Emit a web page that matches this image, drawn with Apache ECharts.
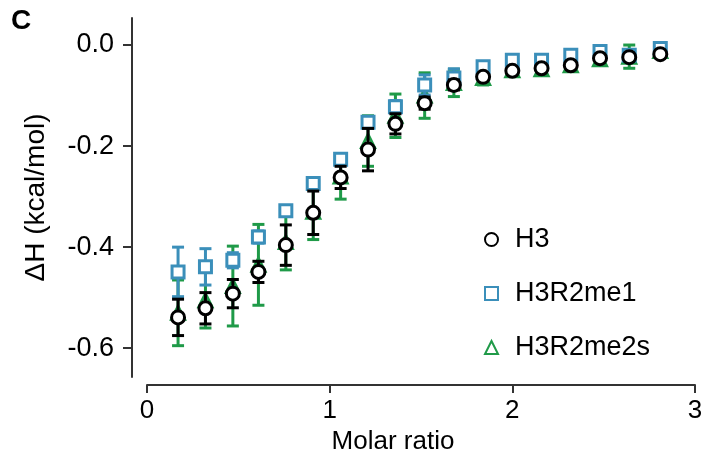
<!DOCTYPE html>
<html>
<head>
<meta charset="utf-8">
<script src="https://cdn.jsdelivr.net/npm/echarts@6/dist/echarts.min.js"></script>
<style>
  html, body { margin: 0; padding: 0; background: #fff; }
  #chart { width: 707px; height: 452px; }
</style>
</head>
<body>
<div id="chart"></div>
<script>
// 摩尔比 (x)
var molarRatio = [0.17, 0.32, 0.47, 0.61, 0.76, 0.91, 1.06, 1.21, 1.36, 1.52, 1.68, 1.84, 2.0, 2.16, 2.32, 2.48, 2.64, 2.81];

// H3
var h3Y   = [-0.539, -0.521, -0.492, -0.449, -0.396, -0.332, -0.262, -0.207, -0.156, -0.115, -0.079, -0.063, -0.051, -0.046, -0.040, -0.026, -0.024, -0.018];
var h3Err = [0.036, 0.031, 0.028, 0.021, 0.040, 0.043, 0.022, 0.042, 0.020, 0.012, 0.010, 0.006, 0.005, 0.005, 0.005, 0.005, 0.005, 0.005];

// H3R2me1
var me1Y   = [-0.449, -0.439, -0.426, -0.380, -0.328, -0.274, -0.226, -0.153, -0.122, -0.079, -0.065, -0.043, -0.030, -0.030, -0.020, -0.013, -0.020, -0.007];
var me1Err = [0.049, 0.036, 0.015, 0.012, 0.010, 0.010, 0.010, 0.010, 0.012, 0.020, 0.018, 0.010, 0.008, 0.008, 0.008, 0.008, 0.008, 0.008];

// H3R2me2s
var me2sY   = [-0.530, -0.505, -0.477, -0.435, -0.390, -0.330, -0.260, -0.190, -0.140, -0.100, -0.075, -0.065, -0.050, -0.048, -0.040, -0.028, -0.023, -0.012];
var me2sErr = [0.065, 0.055, 0.079, 0.080, 0.055, 0.055, 0.045, 0.050, 0.043, 0.045, 0.027, 0.014, 0.008, 0.008, 0.008, 0.008, 0.023, 0.010];

var seriesNames = ['H3', 'H3R2me1', 'H3R2me2s'];
var yTicks = [-0.6, -0.4, -0.2, 0.0];

var black = '#000000';
var blue = '#3b8fba';
var green = '#1f9a48';
var fontFamily = 'Arial, "Liberation Sans", sans-serif';

function pts(ys, errs) {
    return molarRatio.map(function (x, i) { return [x, ys[i], errs[i]]; });
}

// 误差棒
function errorBar(color) {
    return function (params, api) {
        var x = api.value(0), y = api.value(1), e = api.value(2);
        var top = api.coord([x, y + e]);
        var bot = api.coord([x, y - e]);
        var hw = 6;
        var st = { stroke: color, lineWidth: 3 };
        return {
            type: 'group',
            children: [
                { type: 'line', shape: { x1: top[0], y1: top[1], x2: bot[0], y2: bot[1] }, style: st },
                { type: 'line', shape: { x1: top[0] - hw, y1: top[1], x2: top[0] + hw, y2: top[1] }, style: st },
                { type: 'line', shape: { x1: bot[0] - hw, y1: bot[1], x2: bot[0] + hw, y2: bot[1] }, style: st }
            ]
        };
    };
}

var myChart = echarts.init(document.getElementById('chart'));
var option = {
    backgroundColor: '#fff',
    animation: false,
    title: {
        text: 'C',
        left: 6,
        top: 2,
        textStyle: { fontFamily: fontFamily, fontSize: 28, fontWeight: 'bold', color: '#000' }
    },
    grid: {
        left: 147,
        right: 12,
        top: 18,
        bottom: 75,
        outerBoundsMode: 'none'
    },
    legend: {
        orient: 'vertical',
        left: 484,
        top: 226,
        padding: 0,
        itemWidth: 13,
        itemHeight: 13,
        itemGap: 27,
        textStyle: { fontFamily: fontFamily, fontSize: 27, color: '#000', padding: [0, 0, 0, 12] },
        data: seriesNames
    },
    xAxis: {
        type: 'value',
        min: 0,
        max: 3,
        interval: 1,
        offset: 8,
        name: 'Molar ratio',
        nameLocation: 'middle',
        nameGap: 38,
        nameTextStyle: { fontFamily: fontFamily, fontSize: 26, color: '#000', padding: [0, 56, 0, 0] },
        splitLine: { show: false },
        axisLine: { show: true, onZero: false, lineStyle: { color: '#333', width: 2 } },
        axisTick: { show: true, length: 8, lineStyle: { color: '#333', width: 2 } },
        axisLabel: {
            margin: 13,
            fontFamily: fontFamily, fontSize: 26, color: '#000',
            formatter: function (v) { return String(v); }
        }
    },
    yAxis: {
        type: 'value',
        min: -0.657,
        max: 0.0535,
        offset: 15,
        name: 'ΔH (kcal/mol)',
        nameLocation: 'middle',
        nameGap: 82,
        nameTextStyle: { fontFamily: fontFamily, fontSize: 28, color: '#000' },
        splitLine: { show: false },
        axisLine: { show: true, onZero: false, lineStyle: { color: '#333', width: 2 } },
        axisTick: { show: true, length: 9, customValues: yTicks, lineStyle: { color: '#333', width: 2 } },
        axisLabel: {
            margin: 18,
            customValues: yTicks,
            fontFamily: fontFamily, fontSize: 27, color: '#000',
            formatter: function (v) { return v.toFixed(1); }
        }
    },
    series: [
        {
            name: 'err-me2s', type: 'custom', renderItem: errorBar(green),
            encode: { x: 0, y: 1 }, data: pts(me2sY, me2sErr), z: 1, silent: true
        },
        {
            name: 'H3R2me2s', type: 'scatter', symbol: 'triangle', symbolSize: 13,
            data: pts(me2sY, me2sErr),
            itemStyle: { color: '#fff', borderColor: green, borderWidth: 3, opacity: 1 }, z: 2
        },
        {
            name: 'err-me1', type: 'custom', renderItem: errorBar(blue),
            encode: { x: 0, y: 1 }, data: pts(me1Y, me1Err), z: 3, silent: true
        },
        {
            name: 'H3R2me1', type: 'scatter', symbol: 'rect', symbolSize: 12,
            data: pts(me1Y, me1Err),
            itemStyle: { color: '#fff', borderColor: blue, borderWidth: 3, opacity: 1 }, z: 4
        },
        {
            name: 'err-h3', type: 'custom', renderItem: errorBar(black),
            encode: { x: 0, y: 1 }, data: pts(h3Y, h3Err), z: 5, silent: true
        },
        {
            name: 'H3', type: 'scatter', symbol: 'circle', symbolSize: 13,
            data: pts(h3Y, h3Err),
            itemStyle: { color: '#fff', borderColor: black, borderWidth: 3, opacity: 1 }, z: 6
        }
    ]
};
myChart.setOption(option);
</script>
</body>
</html>
